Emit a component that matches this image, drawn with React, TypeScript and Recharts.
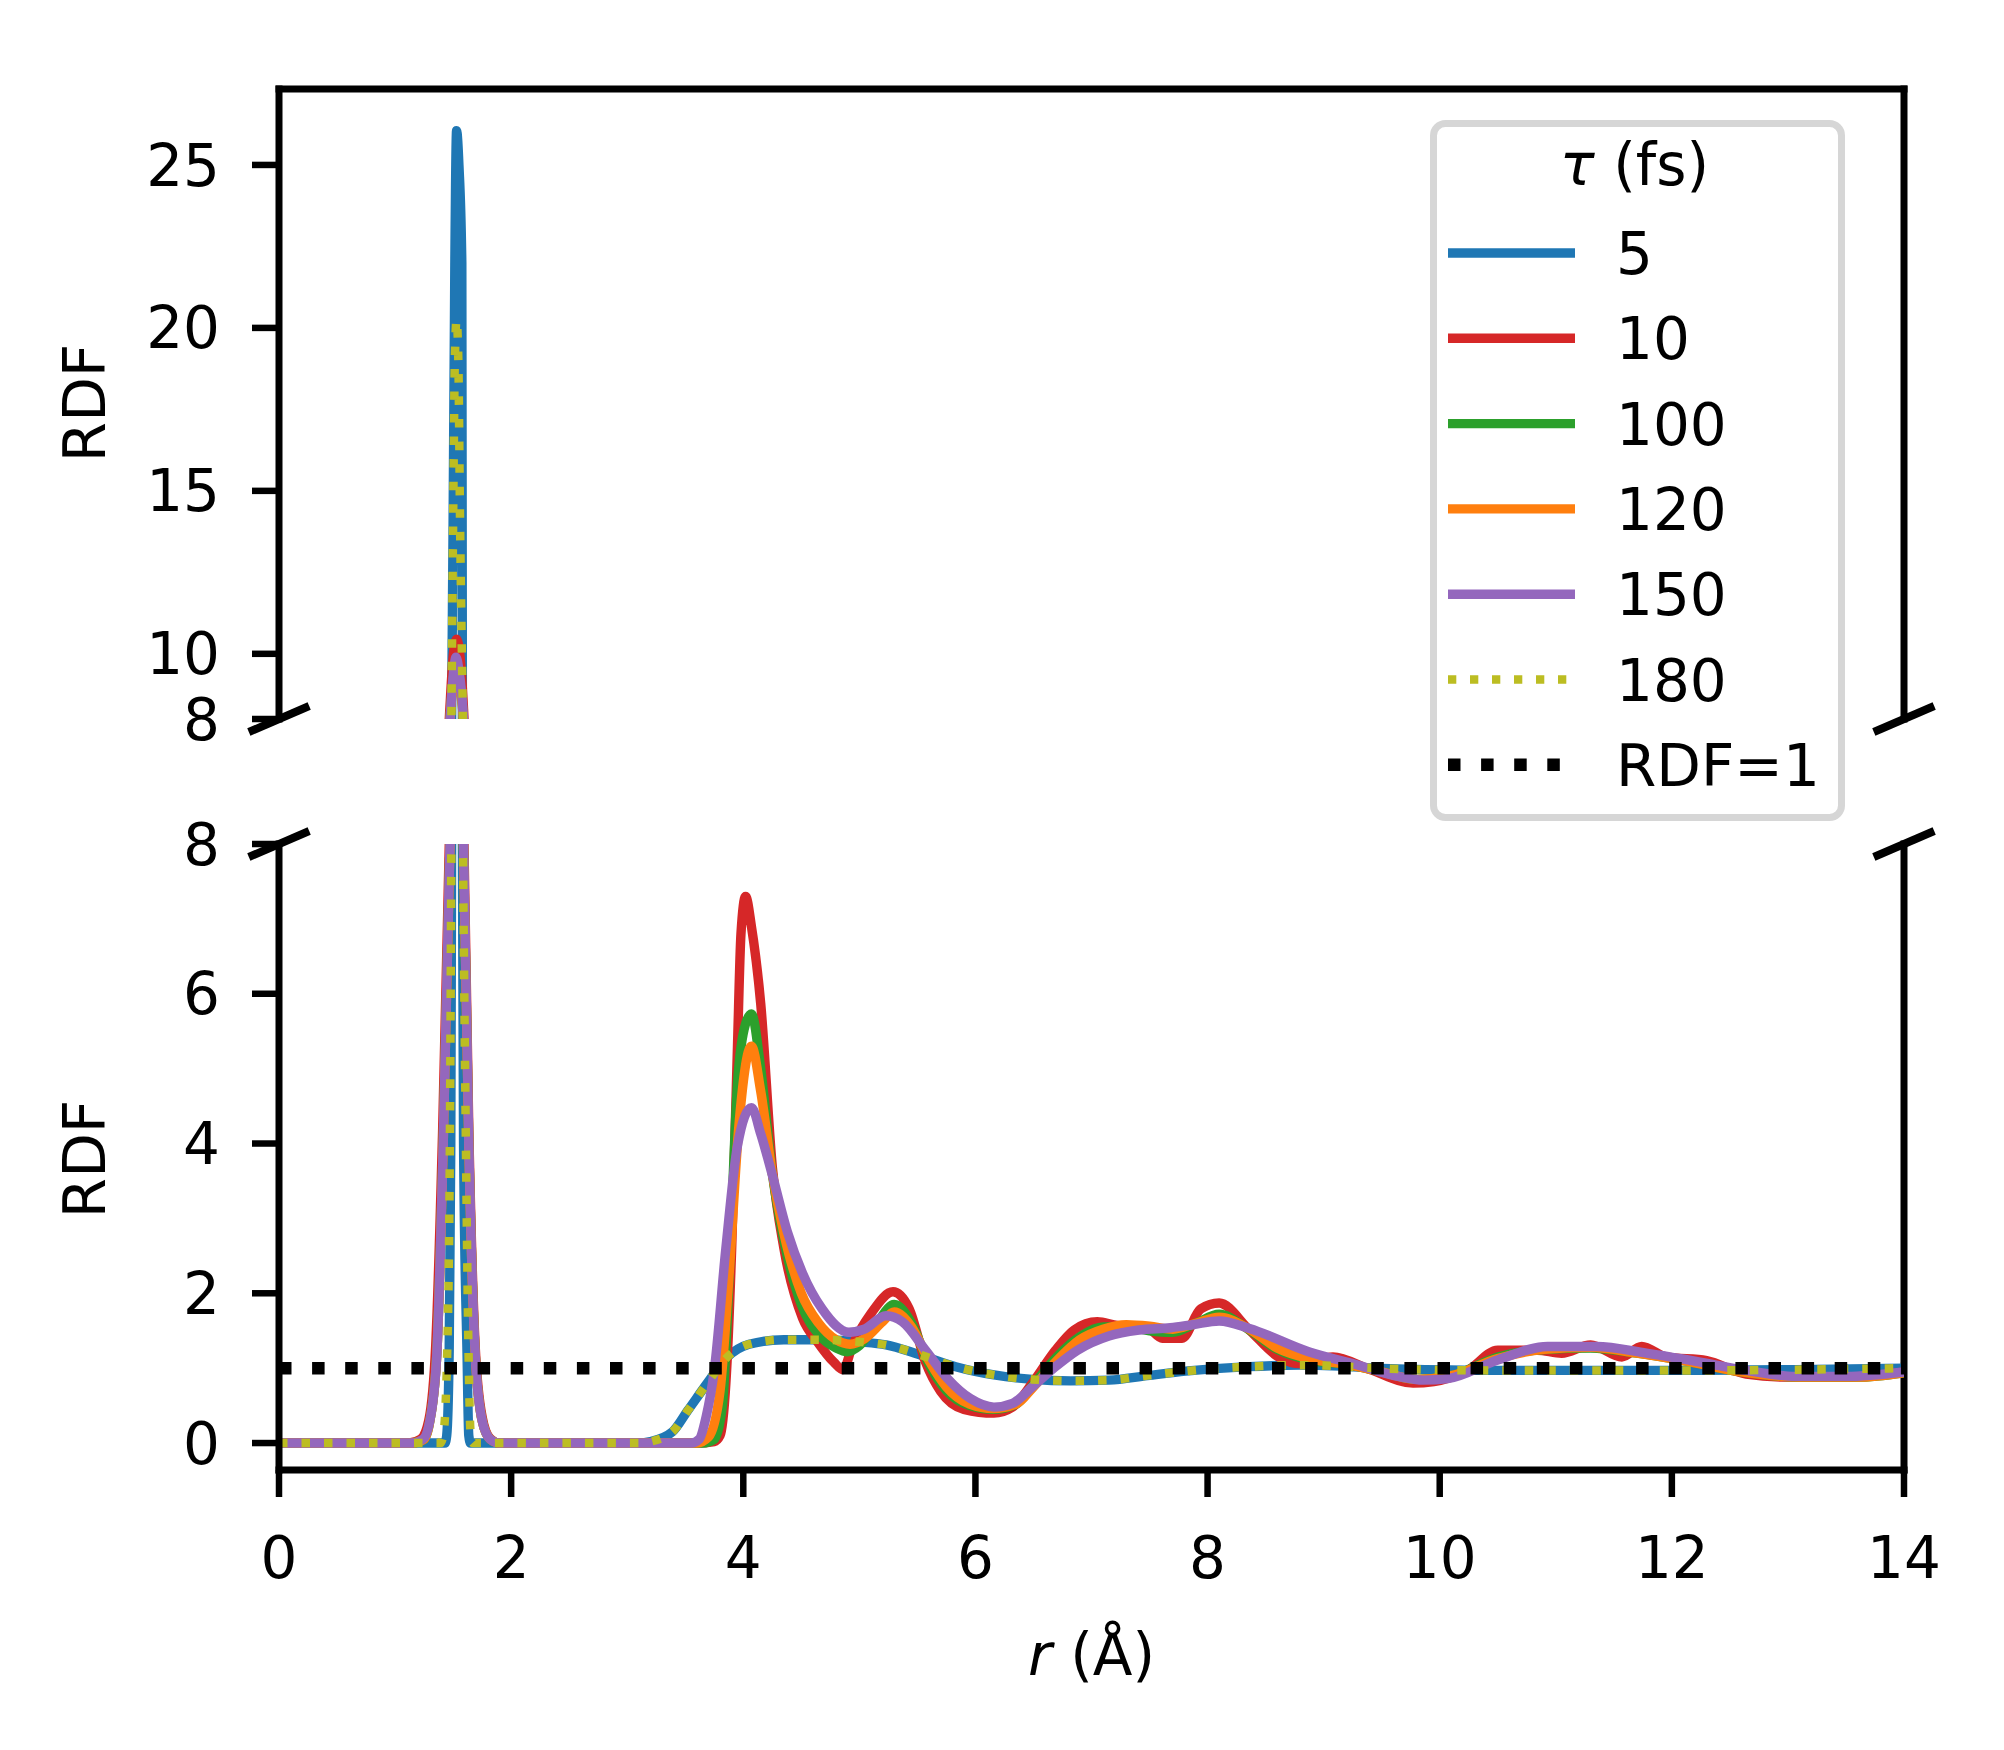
import React from "react";
import { LineChart, Line, XAxis, YAxis, ReferenceLine } from "recharts";

const FONT = '"DejaVu Sans", sans-serif';
const FS = 58;

// RDF curves, [r (Å), g(r)]
const TAU_5: [number, number][] = [
  [0, 0], [1.43, 0], [1.445, 0.1], [1.466, 1.2], [1.48, 4], [1.487, 8], [1.5, 14],
  [1.515, 22], [1.53, 26.05], [1.55, 25], [1.575, 22], [1.58, 8], [1.59, 4],
  [1.62, 1.2], [1.635, 0.1], [1.65, 0], [3.1, 0], [3.2, 0.02], [3.39, 0.15],
  [3.52, 0.43], [3.69, 0.8], [3.85, 1.13], [4.05, 1.32], [4.35, 1.38], [4.64, 1.38],
  [5.01, 1.35], [5.23, 1.31], [5.5, 1.19], [5.83, 1.02], [6.16, 0.91], [6.49, 0.85],
  [6.82, 0.83], [7.15, 0.84], [7.48, 0.9], [7.81, 0.96], [8.36, 1.02], [8.8, 1.04],
  [9.64, 0.99], [10.5, 0.97], [11.35, 0.97], [12.2, 0.97], [13.07, 0.98], [14, 1.0],
];

const TAU_10: [number, number][] = [
  [0, 0], [1.12, 0], [1.22, 0.05], [1.29, 0.3], [1.35, 1.3], [1.41, 4.2], [1.47, 8.2],
  [1.5, 9.9], [1.53, 10.45], [1.56, 9.9], [1.59, 8.3], [1.635, 4.2], [1.69, 1.3],
  [1.75, 0.35], [1.82, 0.06], [1.9, 0], [3.6, 0], [3.75, 0.02], [3.8, 0.1],
  [3.85, 0.8], [3.9, 2.6], [3.95, 5.3], [3.98, 6.8], [4.02, 7.3], [4.07, 6.9],
  [4.15, 5.87], [4.25, 3.69], [4.35, 2.6], [4.51, 1.67], [4.64, 1.35], [4.78, 1.08],
  [4.86, 0.98], [4.94, 1.3], [5.1, 1.73], [5.29, 2.02], [5.43, 1.79], [5.57, 1.08],
  [5.7, 0.69], [5.9, 0.45], [6.16, 0.4], [6.32, 0.48], [6.49, 0.8], [6.69, 1.24],
  [6.85, 1.51], [7.05, 1.62], [7.22, 1.57], [7.48, 1.54], [7.61, 1.4], [7.78, 1.4],
  [7.94, 1.79], [8.1, 1.87], [8.36, 1.51], [8.61, 1.15], [8.8, 1.06], [9.08, 1.15],
  [9.4, 0.98], [9.77, 0.8], [9.95, 0.82], [10.24, 0.97], [10.5, 1.24], [10.84, 1.24],
  [11.05, 1.2], [11.3, 1.31], [11.57, 1.15], [11.74, 1.29], [11.95, 1.15], [12.3, 1.1],
  [12.64, 0.92], [13.0, 0.88], [13.5, 0.88], [14, 0.95],
];

const TAU_100: [number, number][] = [
  [0, 0], [1.15, 0], [1.25, 0.05], [1.3, 0.3], [1.36, 1.2], [1.415, 4], [1.47, 7.8],
  [1.5, 9.2], [1.525, 9.8], [1.55, 9.4], [1.59, 7.9], [1.635, 4], [1.69, 1.2],
  [1.75, 0.3], [1.82, 0.05], [1.9, 0], [3.65, 0], [3.75, 0.05], [3.82, 0.5],
  [3.88, 2.3], [3.95, 4.8], [4.02, 5.6], [4.07, 5.73], [4.15, 5.0], [4.25, 3.6],
  [4.35, 2.7], [4.5, 1.85], [4.65, 1.45], [4.8, 1.27], [4.9, 1.22], [5.0, 1.3],
  [5.15, 1.6], [5.3, 1.85], [5.45, 1.6], [5.6, 1.05], [5.75, 0.7], [5.95, 0.5],
  [6.15, 0.45], [6.35, 0.52], [6.5, 0.78], [6.7, 1.15], [6.9, 1.42], [7.1, 1.55],
  [7.3, 1.55], [7.5, 1.5], [7.7, 1.48], [7.9, 1.6], [8.1, 1.72], [8.35, 1.52],
  [8.6, 1.25], [8.9, 1.1], [9.2, 1.05], [9.5, 0.95], [9.8, 0.85], [10.1, 0.9],
  [10.5, 1.15], [10.9, 1.25], [11.3, 1.27], [11.7, 1.2], [12.1, 1.1], [12.6, 0.95],
  [13.1, 0.88], [13.6, 0.88], [14, 0.94],
];

const TAU_120: [number, number][] = [
  [0, 0], [1.15, 0], [1.25, 0.05], [1.3, 0.3], [1.36, 1.2], [1.415, 4], [1.47, 7.8],
  [1.5, 9.15], [1.525, 9.75], [1.55, 9.35], [1.59, 7.9], [1.635, 4], [1.69, 1.2],
  [1.75, 0.3], [1.82, 0.05], [1.9, 0], [3.6, 0], [3.7, 0.08], [3.8, 0.7],
  [3.88, 2.3], [3.96, 4.2], [4.07, 5.3], [4.15, 4.7], [4.25, 3.6], [4.35, 2.8],
  [4.5, 2.0], [4.65, 1.6], [4.8, 1.38], [4.92, 1.32], [5.05, 1.4], [5.2, 1.62],
  [5.3, 1.75], [5.45, 1.55], [5.6, 1.1], [5.75, 0.75], [5.95, 0.52], [6.15, 0.46],
  [6.35, 0.52], [6.5, 0.75], [6.7, 1.1], [6.9, 1.38], [7.1, 1.52], [7.3, 1.58],
  [7.5, 1.56], [7.7, 1.52], [7.9, 1.6], [8.1, 1.68], [8.35, 1.53], [8.6, 1.27],
  [8.9, 1.12], [9.2, 1.05], [9.5, 0.95], [9.8, 0.85], [10.1, 0.9], [10.5, 1.13],
  [10.9, 1.25], [11.3, 1.28], [11.7, 1.2], [12.1, 1.1], [12.6, 0.95], [13.1, 0.88],
  [13.6, 0.88], [14, 0.94],
];

const TAU_150: [number, number][] = [
  [0, 0], [1.15, 0], [1.24, 0.05], [1.3, 0.3], [1.36, 1.2], [1.415, 4], [1.47, 7.8],
  [1.5, 9.3], [1.525, 9.9], [1.55, 9.5], [1.59, 8], [1.635, 4], [1.69, 1.2],
  [1.75, 0.3], [1.82, 0.05], [1.9, 0], [3.55, 0], [3.62, 0.05], [3.68, 0.35],
  [3.75, 0.97], [3.85, 2.6], [3.95, 3.97], [4.07, 4.48], [4.15, 4.13], [4.25, 3.58],
  [4.38, 2.82], [4.51, 2.27], [4.68, 1.79], [4.91, 1.48], [5.04, 1.52], [5.23, 1.7],
  [5.37, 1.62], [5.57, 1.24], [5.76, 0.86], [5.96, 0.59], [6.16, 0.48], [6.32, 0.53],
  [6.49, 0.75], [6.69, 1.02], [6.88, 1.24], [7.15, 1.43], [7.41, 1.51], [7.68, 1.54],
  [7.87, 1.58], [8.1, 1.63], [8.36, 1.53], [8.87, 1.22], [9.3, 1.04], [9.64, 0.89],
  [9.86, 0.84], [10.07, 0.86], [10.5, 1.11], [10.93, 1.29], [11.35, 1.29],
  [11.78, 1.2], [12.21, 1.09], [12.64, 0.97], [13.07, 0.89], [13.5, 0.89], [14, 0.95],
];

const TAU_180: [number, number][] = [
  [0, 0], [1.39, 0], [1.415, 0.1], [1.449, 1.2], [1.472, 4], [1.485, 8], [1.5, 14],
  [1.515, 19], [1.53, 20.25], [1.545, 19], [1.56, 14], [1.585, 8], [1.61, 4],
  [1.633, 1.2], [1.65, 0.15], [1.67, 0], [3.1, 0], [3.2, 0.02], [3.39, 0.15],
  [3.52, 0.43], [3.69, 0.8], [3.85, 1.13], [4.05, 1.32], [4.35, 1.38], [4.64, 1.38],
  [5.01, 1.35], [5.23, 1.31], [5.5, 1.19], [5.83, 1.02], [6.16, 0.91], [6.49, 0.85],
  [6.82, 0.83], [7.15, 0.84], [7.48, 0.9], [7.81, 0.96], [8.36, 1.02], [8.8, 1.04],
  [9.64, 0.99], [10.5, 0.97], [11.35, 0.97], [12.2, 0.97], [13.07, 0.98], [14, 1.0],
];

const RDF_ONE: [number, number][] = [[0, 1], [14, 1]];

const X_TICKS = [0, 2, 4, 6, 8, 10, 12, 14];
const TOP_TICKS = [8, 10, 15, 20, 25];
const BOTTOM_TICKS = [0, 2, 4, 6, 8];
const X_DOMAIN: [number, number] = [0, 14];
const TOP_DOMAIN: [number, number] = [8, 27.33];
const BOTTOM_DOMAIN: [number, number] = [-0.36, 8];

const SERIES = [
  { name: "5", color: "#1f77b4", points: TAU_5, dotted: false },
  { name: "10", color: "#d62728", points: TAU_10, dotted: false },
  { name: "100", color: "#2ca02c", points: TAU_100, dotted: false },
  { name: "120", color: "#ff7f0e", points: TAU_120, dotted: false },
  { name: "150", color: "#9467bd", points: TAU_150, dotted: false },
  { name: "180", color: "#bcbd22", points: TAU_180, dotted: true },
];

const toPoints = (pairs: [number, number][]) => pairs.map(([r, g]) => ({ r, g }));

// layout (page pixels)
const W = 2004;
const H = 1750;
const PLOT_LEFT = 279;
const PLOT_RIGHT = 1904;
const TOP_PLOT_TOP = 89;
const TOP_PLOT_BOTTOM = 719;
const BOT_PLOT_TOP = 844;
const BOT_PLOT_BOTTOM = 1470;
const BOT_CHART_TOP = 760;
const Y_AXIS_W = 120;

const SPINE = 7;
const LINE_W = 9.4;
const BREAK_DX = 0.26;

const axisLine = { stroke: "#000", strokeWidth: SPINE, strokeLinecap: "square" as const };
const tickLine = { stroke: "#000", strokeWidth: 6.5 };
const tickStyle = { fill: "#000", fontSize: FS, fontFamily: FONT };

const seriesLines = () =>
  SERIES.map((s) => (
    <Line
      key={s.name}
      data={toPoints(s.points)}
      dataKey="g"
      type="monotone"
      stroke={s.color}
      strokeWidth={s.dotted ? 8.5 : LINE_W}
      strokeDasharray={s.dotted ? "8.5 14" : undefined}
      strokeLinejoin="round"
      dot={false}
      activeDot={false}
      isAnimationActive={false}
    />
  ));

const breakMarks = (yVal: number, dy: number) =>
  [X_DOMAIN[0], X_DOMAIN[1]].map((xv) => (
    <ReferenceLine
      key={`brk-${xv}`}
      segment={[
        { x: xv - BREAK_DX, y: yVal - dy },
        { x: xv + BREAK_DX, y: yVal + dy },
      ]}
      stroke="#000"
      strokeWidth={8}
      ifOverflow="visible"
    />
  ));

const rdfLabel = (y: number) => () =>
  (
    <text
      x={105}
      y={y}
      transform={`rotate(-90 105 ${y})`}
      textAnchor="middle"
      fontFamily={FONT}
      fontSize={FS}
      fill="#000"
    >
      RDF
    </text>
  );

const LEGEND_LEFT = 1430;
const LEGEND_TOP = 120;
const LEGEND_W = 415;
const LEGEND_H = 701;
const LEGEND_ROW0 = 133;
const LEGEND_STEP = 85.3;

const LegendBox = () => {
  const items = [
    ...SERIES.map((s) => ({ name: s.name, color: s.color, width: s.dotted ? 8.3 : LINE_W, dash: s.dotted ? "8.3 13.7" : undefined })),
    { name: "RDF=1", color: "#000", width: 12.5, dash: "12.5 20.6" },
  ];
  return (
    <svg
      width={LEGEND_W}
      height={LEGEND_H}
      style={{ position: "absolute", left: LEGEND_LEFT, top: LEGEND_TOP, zIndex: 5 }}
    >
      <rect
        x={3.5}
        y={3.5}
        width={LEGEND_W - 7}
        height={LEGEND_H - 7}
        rx={12}
        fill="#fff"
        fillOpacity={0.8}
        stroke="#d6d6d6"
        strokeWidth={7}
      />
      <text x={LEGEND_W / 2 - 3} y={65} textAnchor="middle" fontFamily={FONT} fontSize={FS} fill="#000">
        <tspan fontStyle="italic">τ</tspan> (fs)
      </text>
      {items.map((it, i) => {
        const cy = LEGEND_ROW0 + i * LEGEND_STEP;
        return (
          <g key={it.name}>
            <line
              x1={18}
              x2={145}
              y1={cy}
              y2={cy}
              stroke={it.color}
              strokeWidth={it.width}
              strokeDasharray={it.dash}
            />
            <text x={186} y={cy + 21} fontFamily={FONT} fontSize={FS} fill="#000">
              {it.name}
            </text>
          </g>
        );
      })}
    </svg>
  );
};

const App: React.FC = () => {
  const topH = 800;
  const botH = H - BOT_CHART_TOP;
  return (
    <div style={{ position: "relative", width: W, height: H, background: "#fff", fontFamily: FONT }}>
      <style>{"body{margin:0}"}</style>

      {/* upper panel: 8 .. 27 */}
      <div style={{ position: "absolute", left: 0, top: 0 }}>
        <LineChart
          width={W}
          height={topH}
          margin={{
            top: TOP_PLOT_TOP,
            right: W - PLOT_RIGHT,
            bottom: topH - TOP_PLOT_BOTTOM,
            left: PLOT_LEFT - Y_AXIS_W,
          }}
        >
          <XAxis type="number" dataKey="r" domain={X_DOMAIN} allowDataOverflow hide />
          <YAxis
            type="number"
            domain={TOP_DOMAIN}
            ticks={TOP_TICKS}
            interval={0}
            allowDataOverflow
            width={Y_AXIS_W}
            tickSize={27}
            tickMargin={32}
            axisLine={axisLine}
            tickLine={tickLine}
            tick={tickStyle}
            label={rdfLabel(403)}
          />
          <ReferenceLine y={TOP_DOMAIN[1]} stroke="#000" strokeWidth={SPINE} strokeLinecap="square" />
          <ReferenceLine x={X_DOMAIN[1]} stroke="#000" strokeWidth={SPINE} strokeLinecap="square" />
          {seriesLines()}
          {breakMarks(TOP_DOMAIN[0], 0.4)}
        </LineChart>
      </div>

      {/* lower panel: -0.4 .. 8 */}
      <div style={{ position: "absolute", left: 0, top: BOT_CHART_TOP }}>
        <LineChart
          width={W}
          height={botH}
          margin={{
            top: BOT_PLOT_TOP - BOT_CHART_TOP,
            right: W - PLOT_RIGHT,
            bottom: botH - (BOT_PLOT_BOTTOM - BOT_CHART_TOP) - 150,
            left: PLOT_LEFT - Y_AXIS_W,
          }}
        >
          <XAxis
            type="number"
            dataKey="r"
            domain={X_DOMAIN}
            ticks={X_TICKS}
            interval={0}
            allowDataOverflow
            height={150}
            tickSize={27}
            tickMargin={40}
            axisLine={axisLine}
            tickLine={tickLine}
            tick={tickStyle}
            label={() => (
              <text
                x={(PLOT_LEFT + PLOT_RIGHT) / 2}
                y={1675 - BOT_CHART_TOP}
                textAnchor="middle"
                fontFamily={FONT}
                fontSize={FS}
                fill="#000"
              >
                <tspan fontStyle="italic">r</tspan> (Å)
              </text>
            )}
          />
          <YAxis
            type="number"
            domain={BOTTOM_DOMAIN}
            ticks={BOTTOM_TICKS}
            interval={0}
            allowDataOverflow
            width={Y_AXIS_W}
            tickSize={27}
            tickMargin={32}
            axisLine={axisLine}
            tickLine={tickLine}
            tick={tickStyle}
            label={rdfLabel(1159 - BOT_CHART_TOP)}
          />
          <ReferenceLine x={X_DOMAIN[1]} stroke="#000" strokeWidth={SPINE} strokeLinecap="square" />
          {seriesLines()}
          <Line
            data={toPoints(RDF_ONE)}
            dataKey="g"
            type="linear"
            stroke="#000"
            strokeWidth={12.5}
            strokeDasharray="12.5 20.6"
            dot={false}
            activeDot={false}
            isAnimationActive={false}
          />
          {breakMarks(BOTTOM_DOMAIN[1], 0.174)}
        </LineChart>
      </div>

      <LegendBox />
    </div>
  );
};

export default App;
